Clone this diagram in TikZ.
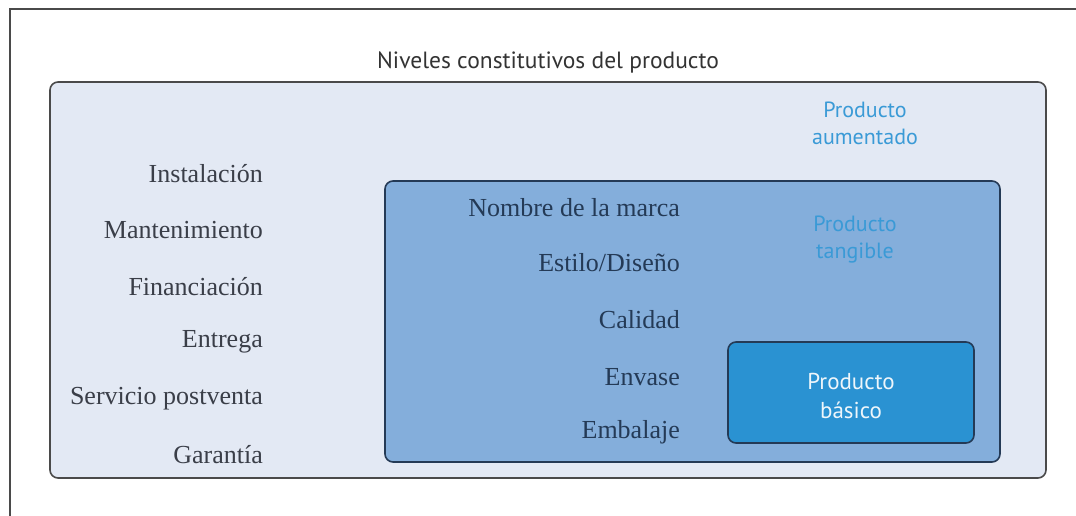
\documentclass[tikz,border=0pt]{standalone}
\usepackage{fontspec}
\setmainfont{Liberation Serif}
\newfontfamily\labelsans{PT Sans}
\definecolor{augfill}{HTML}{E3E9F4}
\definecolor{tanfill}{HTML}{84AEDB}
\definecolor{basfill}{HTML}{2A92D2}
\definecolor{bluetxt}{HTML}{3A9AD6}
\definecolor{frameline}{HTML}{4A4A4A}
\definecolor{serifgray}{HTML}{3A3E48}
\definecolor{serifdark}{HTML}{243A56}
\tikzset{
  levelbox/.style={draw=frameline, line width=1.6pt, rounded corners=8pt, inner sep=0pt},
  leftlbl/.style={anchor=east, font=\fontsize{26}{28}\selectfont, text=serifgray, inner sep=0pt},
  innerlbl/.style={anchor=east, font=\fontsize{26}{28}\selectfont, text=serifdark, inner sep=0pt},
  bluelbl/.style={align=center, font=\labelsans\fontsize{22}{27}\selectfont, text=bluetxt, inner sep=0pt},
}
\begin{document}
\begin{tikzpicture}[x=1pt,y=-1pt]
\useasboundingbox (0,0) rectangle (1076,516);
\fill[white] (0,0) rectangle (1076,516);
\draw[frameline, line width=2pt] (10,516) -- (10,9) -- (1076,9);
\node[font=\labelsans\fontsize{23.5}{26}\selectfont, text=black!80] (title) at (548,62) {Niveles constitutivos del producto};
\node[levelbox, fill=augfill, minimum width=996pt, minimum height=396pt] (aug) at (548,280) {};
\node[levelbox, fill=tanfill, draw=serifdark, minimum width=615pt, minimum height=281pt] (tan) at (692.5,321.5) {};
\node[levelbox, fill=basfill, draw=serifdark, minimum width=246pt, minimum height=101pt] (bas) at (851,392.5) {};
\node[bluelbl] (augt) at (865,123.5) {Producto\\aumentado};
\node[bluelbl] (tant) at (855,239.5) {Producto\\tangible};
\node[bluelbl, font=\labelsans\fontsize{23}{29}\selectfont, text=white!92!basfill] (bast) at (851,395.5) {Producto\\básico};
\node[leftlbl] (l1) at (263,174) {Instalación};
\node[leftlbl] (l2) at (263,230) {Mantenimiento};
\node[leftlbl] (l3) at (263,287) {Financiación};
\node[leftlbl] (l4) at (263,342) {Entrega};
\node[leftlbl] (l5) at (263,399) {Servicio postventa};
\node[leftlbl] (l6) at (263,455) {Garantía};
\node[innerlbl] (i1) at (680,208) {Nombre de la marca};
\node[innerlbl] (i2) at (680,263) {Estilo/Diseño};
\node[innerlbl] (i3) at (680,320) {Calidad};
\node[innerlbl] (i4) at (680,377) {Envase};
\node[innerlbl] (i5) at (680,432) {Embalaje};
\end{tikzpicture}
\end{document}
